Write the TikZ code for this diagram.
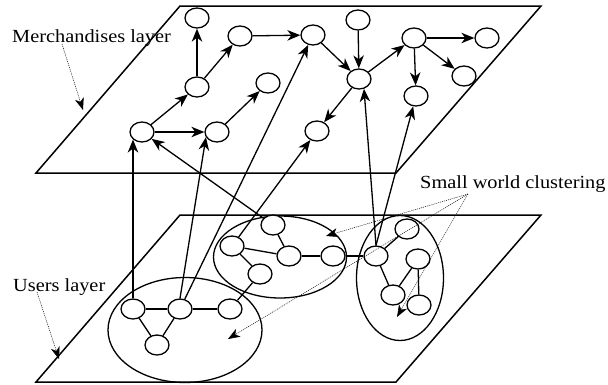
\documentclass[tikz,border=0pt]{standalone}
\usepackage{fontspec}
\setmainfont{Liberation Serif}
\newfontfamily\lblfont[FakeStretch=1.1]{Liberation Serif}
\usetikzlibrary{arrows.meta,shapes.geometric}
\begin{document}
\begin{tikzpicture}[x=1pt,y=-1pt,
  nd/.style={draw,ellipse,minimum width=24pt,minimum height=20pt,inner sep=0pt,line width=1.3pt,fill=white},
  arr/.style={line width=1.3pt,-{Stealth[length=13pt,width=10.5pt,inset=4pt]}},
  lnk/.style={line width=1.3pt},
  plane/.style={line width=1.5pt},
  cluster/.style={draw,ellipse,line width=1.3pt,inner sep=0pt},
  note/.style={line width=0.5pt,black,dash pattern=on 1pt off 1pt,-{Stealth[length=12pt,width=9pt,inset=3.5pt]}},
  lbl/.style={font=\lblfont\fontsize{18.5}{22}\selectfont,inner sep=0pt,anchor=base west}
]
\useasboundingbox (0,0) rectangle (608,384);
% planes
\draw[plane] (180,6) -- (541,6) -- (396,173) -- (36,173) -- cycle;
\draw[plane] (180,215) -- (541,215) -- (396,382) -- (36,382) -- cycle;
% clusters
\node[cluster,minimum width=154pt,minimum height=105pt] (C1) at (185,330) {};
\node[cluster,minimum width=133pt,minimum height=82pt] (C2) at (280,257) {};
\node[cluster,minimum width=87pt,minimum height=125pt] (C3) at (400,278) {};
% merchandise nodes
\node[nd] (M1) at (197,18) {};
\node[nd] (M2) at (240,36) {};
\node[nd] (M3) at (313,35) {};
\node[nd] (M4) at (358,20) {};
\node[nd] (M5) at (359,79) {};
\node[nd] (M6) at (414,38) {};
\node[nd] (M7) at (487,38) {};
\node[nd] (M8) at (416,96) {};
\node[nd] (M9) at (464,76) {};
\node[nd] (M10) at (317,131) {};
\node[nd] (M11) at (197,87) {};
\node[nd] (M12) at (268,83) {};
\node[nd] (M13) at (142,132) {};
\node[nd] (M14) at (217,132) {};
% user nodes
\node[nd] (U1) at (133,309) {};
\node[nd] (U2) at (180,309) {};
\node[nd] (U3) at (230,309) {};
\node[nd] (U4) at (157,345) {};
\node[nd] (U5) at (232,246) {};
\node[nd] (U6) at (273,225) {};
\node[nd] (U7) at (289,256) {};
\node[nd] (U8) at (333,256) {};
\node[nd] (U9) at (260,274) {};
\node[nd] (U10) at (376,256) {};
\node[nd] (U11) at (407,229) {};
\node[nd] (U12) at (418,259) {};
\node[nd] (U13) at (393,295) {};
\node[nd] (U14) at (419,305) {};
% merchandise arrows
\draw[arr] (M11) -- (M1);
\draw[arr] (M11) -- (M2);
\draw[arr] (M2) -- (M3);
\draw[arr] (M3) -- (M5);
\draw[arr] (M4) -- (M5);
\draw[arr] (M5) -- (M6);
\draw[arr] (M5) -- (M10);
\draw[arr] (M6) -- (M7);
\draw[arr] (M6) -- (M8);
\draw[arr] (M6) -- (M9);
\draw[arr] (M13) -- (M11);
\draw[arr] (M13) -- (M14);
\draw[arr] (M14) -- (M12);
% user links
\draw[lnk] (U1) -- (U2);
\draw[lnk] (U2) -- (U3);
\draw[lnk] (U1) -- (U4);
\draw[lnk] (U2) -- (U4);
\draw[lnk] (U3) -- (U9);
\draw[lnk] (U5) -- (U7);
\draw[lnk] (U6) -- (U7);
\draw[lnk] (U5) -- (U9);
\draw[lnk] (U7) -- (U8);
\draw[lnk] (U8) -- (U10);
\draw[lnk] (U10) -- (U11);
\draw[lnk] (U10) -- (U13);
\draw[lnk] (U12) -- (U13);
\draw[lnk] (U12) -- (U14);
% inter-layer arrows
\draw[arr] (U1) -- (U1 |- M13.south west);
\draw[arr] (U2.north) -- (M14.205);
\draw[arr] (U2) -- (M3);
\draw[arr] (U5) -- (M10);
\draw[arr] (U6) -- (M13);
\draw[arr] (U10.north) -- (M5.-63);
\draw[arr] (U10.north) -- (M8);
% labels
\node[lbl] (LM) at (12,42) {Merchandises layer};
\node[lbl] (LU) at (13,291) {Users layer};
\node[lbl] (LS) at (420,188) {Small world clustering};
\coordinate (mtail) at (62,44);
\coordinate (mtip) at (83,110);
\coordinate (utail) at (37,292);
\coordinate (utip) at (59,359);
\coordinate (sorg) at (468,194);
\coordinate (s1) at (326,236);
\coordinate (s2) at (228,339);
\coordinate (s3) at (397,317);
\draw[note] (mtail) -- (mtip);
\draw[note] (utail) -- (utip);
\draw[note] (sorg) -- (s1);
\draw[note] (sorg) -- (s2);
\draw[note] (sorg) -- (s3);
\end{tikzpicture}
\end{document}
